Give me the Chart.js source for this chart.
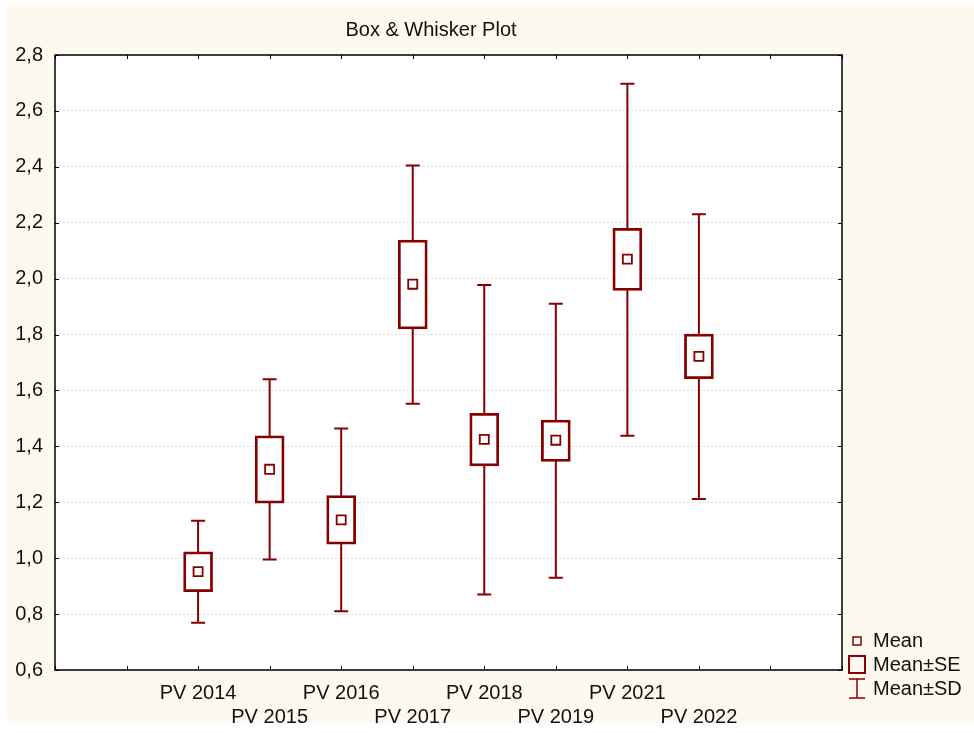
<!DOCTYPE html>
<html>
<head>
<meta charset="utf-8">
<script src="https://cdn.jsdelivr.net/npm/chart.js@4/dist/chart.umd.min.js"></script>
<style>
  html, body { margin: 0; padding: 0; background: #fff; }
  #wrap { width: 974px; height: 733px; position: relative; }
</style>
</head>
<body>
<div id="wrap"><canvas id="boxChart" width="974" height="733"></canvas></div>
<script>
const categories = ['PV 2014', 'PV 2015', 'PV 2016', 'PV 2017', 'PV 2018', 'PV 2019', 'PV 2021', 'PV 2022'];
const means  = [0.952, 1.318, 1.137, 1.980, 1.425, 1.422, 2.070, 1.722];
const seLow  = [0.880, 1.197, 1.050, 1.820, 1.330, 1.346, 1.958, 1.642];
const seHigh = [1.023, 1.438, 1.224, 2.138, 1.518, 1.494, 2.180, 1.802];
const sdLow  = [0.769, 0.995, 0.810, 1.552, 0.870, 0.930, 1.438, 1.212];
const sdHigh = [1.134, 1.640, 1.464, 2.405, 1.977, 1.910, 2.697, 2.230];
const yTicks = { min: 0.6, max: 2.8, step: 0.2 };

const RED   = '#860000';
const CREAM = '#fdf9ee';
const FONT  = "Arial, 'Liberation Sans', sans-serif";

function fmtComma(v) { return v.toFixed(1).replace('.', ','); }

// background, frame, inside ticks, title, legend
const decor = {
    id: 'decor',
    beforeDraw(chart) {
        const ctx = chart.ctx, a = chart.chartArea;
        ctx.save();
        ctx.fillStyle = '#fff';
        ctx.fillRect(0, 0, chart.width, chart.height);
        ctx.fillStyle = CREAM;
        ctx.fillRect(7, 4, chart.width - 7, chart.height - 14);
        ctx.fillStyle = '#fff';
        ctx.fillRect(a.left, a.top, a.right - a.left, a.bottom - a.top);
        ctx.restore();
    },
    afterDraw(chart) {
        const ctx = chart.ctx, a = chart.chartArea;
        const xs = chart.scales.x, ys = chart.scales.y;
        ctx.save();
        ctx.strokeStyle = '#000';
        ctx.lineWidth = 1.5;
        ctx.strokeRect(a.left, a.top, a.right - a.left, a.bottom - a.top);
        ctx.lineWidth = 1;
        ctx.beginPath();
        xs.ticks.forEach(t => {
            const px = Math.round(xs.getPixelForValue(t.value)) + 0.5;
            ctx.moveTo(px, a.top); ctx.lineTo(px, a.top + 4);
            ctx.moveTo(px, a.bottom); ctx.lineTo(px, a.bottom - 4);
        });
        ys.ticks.forEach(t => {
            const py = Math.round(ys.getPixelForValue(t.value)) + 0.5;
            ctx.moveTo(a.left, py); ctx.lineTo(a.left + 4, py);
            ctx.moveTo(a.right, py); ctx.lineTo(a.right - 4, py);
        });
        ctx.stroke();

        // title
        ctx.fillStyle = '#111';
        ctx.font = '20px ' + FONT;
        ctx.textAlign = 'center';
        ctx.textBaseline = 'middle';
        ctx.fillText('Box & Whisker Plot', 431, 30);

        // legend
        const lx = 857;
        ctx.strokeStyle = RED;
        ctx.lineWidth = 1.5;
        ctx.strokeRect(lx - 4, 637, 8, 8);
        ctx.lineWidth = 2;
        ctx.strokeRect(lx - 8, 656, 16, 17);
        ctx.lineWidth = 1.5;
        ctx.beginPath();
        ctx.moveTo(lx, 679); ctx.lineTo(lx, 698);
        ctx.moveTo(lx - 8, 679); ctx.lineTo(lx + 8, 679);
        ctx.moveTo(lx - 8, 698); ctx.lineTo(lx + 8, 698);
        ctx.stroke();
        ctx.fillStyle = '#111';
        ctx.textAlign = 'left';
        ctx.fillText('Mean', 873, 641);
        ctx.fillText('Mean±SE', 873, 665);
        ctx.fillText('Mean±SD', 873, 689);
        ctx.restore();
    }
};

// SD whiskers, drawn under the SE boxes
const whiskers = {
    id: 'whiskers',
    beforeDatasetsDraw(chart) {
        const ctx = chart.ctx, xs = chart.scales.x, ys = chart.scales.y;
        ctx.save();
        ctx.strokeStyle = RED;
        ctx.lineWidth = 2;
        ctx.beginPath();
        categories.forEach((c, i) => {
            const px = xs.getPixelForValue(i);
            const top = ys.getPixelForValue(sdHigh[i]);
            const bot = ys.getPixelForValue(sdLow[i]);
            ctx.moveTo(px, top); ctx.lineTo(px, bot);
            ctx.moveTo(px - 7, top); ctx.lineTo(px + 7, top);
            ctx.moveTo(px - 7, bot); ctx.lineTo(px + 7, bot);
        });
        ctx.stroke();
        ctx.restore();
    }
};

new Chart(document.getElementById('boxChart').getContext('2d'), {
    type: 'bar',
    data: {
        datasets: [
            {
                label: 'Mean±SE',
                data: categories.map((c, i) => ({ x: i, y: [seLow[i], seHigh[i]] })),
                backgroundColor: '#fff',
                borderColor: RED,
                borderWidth: 2.8,
                borderSkipped: false,
                barThickness: 29,
                order: 2,
            },
            {
                type: 'scatter',
                label: 'Mean',
                data: categories.map((c, i) => ({ x: i, y: means[i] })),
                pointStyle: 'rect',
                pointRadius: 6.4,
                backgroundColor: '#fff',
                borderColor: RED,
                borderWidth: 1.8,
                order: 1,
            }
        ]
    },
    options: {
        responsive: false,
        animation: false,
        layout: { padding: { top: 55, right: 132, bottom: 0, left: 0 } },
        plugins: { legend: { display: false }, tooltip: { enabled: false }, title: { display: false } },
        scales: {
            x: {
                type: 'linear', min: -2, max: 9, offset: false,
                grid: { display: false },
                border: { display: false },
                afterFit(s) { s.height = 63; },
                ticks: {
                    stepSize: 1, autoSkip: false, maxRotation: 0, padding: 3,
                    color: '#111', font: { family: FONT, size: 20, lineHeight: 1.2 },
                    callback(v) {
                        const name = categories[v];
                        if (name === undefined) return '';
                        return v % 2 === 0 ? [name, ''] : ['', name];
                    }
                }
            },
            y: {
                min: yTicks.min, max: yTicks.max,
                grid: { color: '#e0e0e0', drawTicks: false, lineWidth: 1 },
                border: { display: false, dash: [2, 2] },
                afterFit(s) { s.width = 55; },
                ticks: {
                    stepSize: yTicks.step, padding: 12,
                    color: '#111', font: { family: FONT, size: 20 },
                    callback: v => fmtComma(v)
                }
            }
        }
    },
    plugins: [decor, whiskers]
});
</script>
</body>
</html>
